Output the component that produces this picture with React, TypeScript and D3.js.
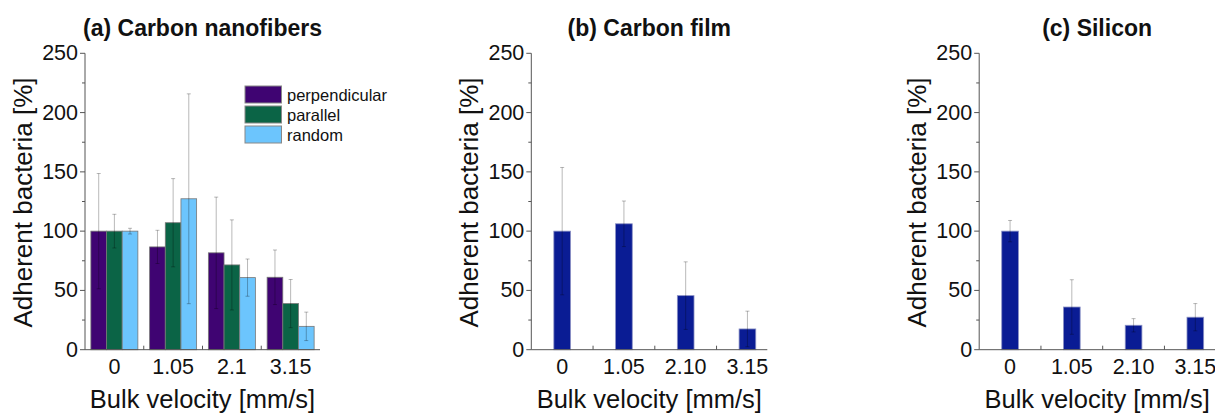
import React from "react";
import * as d3 from "d3";

const velocitiesA = ["0", "1.05", "2.1", "3.15"];
const velocitiesBC = ["0", "1.05", "2.10", "3.15"];
const seriesNames = ["perpendicular", "parallel", "random"];
const seriesColors = ["#3f0472", "#0b6446", "#6cc5fd"];

const perpValues = [100, 86.7, 81.7, 61.1];
const perpErrors = [48.6, 14, 47, 23];
const parallelValues = [100, 107.1, 71.5, 38.9];
const parallelErrors = [14.2, 37.2, 38, 20.3];
const randomValues = [100, 127.3, 60.8, 19.7];
const randomErrors = [2.4, 88.5, 15.7, 12];

const filmValues = [100, 106.2, 45.6, 17.5];
const filmErrors = [53.7, 19.2, 28.5, 15];
const siliconValues = [100, 36, 20.6, 27.4];
const siliconErrors = [9, 23, 5.6, 11.5];

const yTicks = [0, 50, 100, 150, 200, 250];
const yMinorTicks = [25, 75, 125, 175, 225];

const navy = "#0a1c94";
const FONT = "'Liberation Sans', Arial, Helvetica, sans-serif";

type Series = { name: string; color: string; values: number[]; errors: number[] };

type PanelProps = {
  title: string;
  cats: string[];
  series: Series[];
  x0: number;
  axisEnd: number;
  bandEnd: number;
  paddingInner: number;
  paddingOuter: number;
  legend?: boolean;
  barStroke: string;
};

const yTop = 53.3;
const yBottom = 349.7;

function Panel(p: PanelProps) {
  const y = d3.scaleLinear().domain([0, 250]).range([yBottom, yTop]);
  const x = d3
    .scaleBand<string>()
    .domain(p.cats)
    .range([p.x0, p.bandEnd])
    .paddingInner(p.paddingInner)
    .paddingOuter(p.paddingOuter);
  const sub = d3
    .scaleBand<string>()
    .domain(p.series.map((s) => s.name))
    .range([0, x.bandwidth()]);
  const step = x.step();
  const boundaries = d3.range(1, p.cats.length).map((k) => p.x0 + k * step);
  const axisCenter = (p.x0 + p.axisEnd) / 2;

  return (
    <g>
      <text
        x={axisCenter}
        y={36}
        textAnchor="middle"
        fontFamily={FONT}
        fontWeight="bold"
        fontSize={23}
        fill="#111"
      >
        {p.title}
      </text>
      {/* bars */}
      {p.series.map((s) =>
        p.cats.map((c, i) => {
          const bx = (x(c) as number) + (sub(s.name) as number);
          const bw = sub.bandwidth();
          return (
            <rect
              key={s.name + c}
              x={bx}
              y={y(s.values[i])}
              width={bw}
              height={y(0) - y(s.values[i])}
              fill={s.color}
              stroke={p.barStroke}
              strokeWidth={0.8}
            />
          );
        })
      )}
      {/* error bars */}
      {p.series.map((s) =>
        p.cats.map((c, i) => {
          const cx = (x(c) as number) + (sub(s.name) as number) + sub.bandwidth() / 2;
          const hi = y(s.values[i] + s.errors[i]);
          const lo = y(Math.max(0, s.values[i] - s.errors[i]));
          return (
            <g key={"e" + s.name + c} stroke="#000" strokeOpacity={0.28} strokeWidth={1}>
              <line x1={cx} x2={cx} y1={hi} y2={lo} />
              <line x1={cx - 2} x2={cx + 2} y1={hi} y2={hi} />
              <line x1={cx - 2} x2={cx + 2} y1={lo} y2={lo} />
            </g>
          );
        })
      )}
      {/* y axis */}
      <line x1={p.x0} x2={p.x0} y1={yTop} y2={yBottom} stroke="#555" strokeWidth={1} />
      {yTicks.map((t) => (
        <g key={"yt" + t}>
          <line x1={p.x0 - 5} x2={p.x0} y1={y(t)} y2={y(t)} stroke="#555" strokeWidth={1} />
          <text
            x={p.x0 - 7}
            y={y(t)}
            textAnchor="end"
            dominantBaseline="central"
            fontFamily={FONT}
            fontSize={21.5}
            fill="#111"
          >
            {t}
          </text>
        </g>
      ))}
      {yMinorTicks.map((t) => (
        <line key={"ym" + t} x1={p.x0 - 3} x2={p.x0} y1={y(t)} y2={y(t)} stroke="#555" strokeWidth={1} />
      ))}
      {/* x axis */}
      <line x1={p.x0} x2={p.axisEnd} y1={yBottom} y2={yBottom} stroke="#555" strokeWidth={1} />
      {boundaries.map((bx, k) => (
        <line key={"xb" + k} x1={bx} x2={bx} y1={yBottom} y2={yBottom - 4} stroke="#555" strokeWidth={1} />
      ))}
      {p.cats.map((c) => (
        <text
          key={"xl" + c}
          x={(x(c) as number) + x.bandwidth() / 2}
          y={374}
          textAnchor="middle"
          fontFamily={FONT}
          fontSize={21.5}
          fill="#111"
        >
          {c}
        </text>
      ))}
      <text
        x={axisCenter}
        y={408}
        textAnchor="middle"
        fontFamily={FONT}
        fontSize={25.5}
        fill="#111"
      >
        Bulk velocity [mm/s]
      </text>
      <text
        transform={`translate(${p.x0 - 53},${(yTop + yBottom) / 2 + 1}) rotate(-90)`}
        textAnchor="middle"
        fontFamily={FONT}
        fontSize={26}
        fill="#111"
      >
        Adherent bacteria [%]
      </text>
      {p.legend &&
        p.series.map((s, i) => (
          <g key={"lg" + s.name}>
            <rect
              x={245}
              y={86 + i * 20}
              width={36.5}
              height={17}
              fill={s.color}
              stroke="#888"
              strokeWidth={1}
            />
            <text
              x={287}
              y={86 + i * 20 + 8.5}
              dominantBaseline="central"
              fontFamily={FONT}
              fontSize={16.5}
              fill="#111"
            >
              {s.name}
            </text>
          </g>
        ))}
    </g>
  );
}

export default function App() {
  const seriesA: Series[] = [
    { name: seriesNames[0], color: seriesColors[0], values: perpValues, errors: perpErrors },
    { name: seriesNames[1], color: seriesColors[1], values: parallelValues, errors: parallelErrors },
    { name: seriesNames[2], color: seriesColors[2], values: randomValues, errors: randomErrors },
  ];
  const seriesB: Series[] = [{ name: "film", color: navy, values: filmValues, errors: filmErrors }];
  const seriesC: Series[] = [{ name: "silicon", color: navy, values: siliconValues, errors: siliconErrors }];

  return (
    <svg
      width={1215}
      height={414}
      style={{ position: "absolute", left: 0, top: 0, background: "#fff" }}
    >
      <rect x={0} y={0} width={1215} height={414} fill="#fff" />
      <Panel
        title="(a) Carbon nanofibers"
        cats={velocitiesA}
        series={seriesA}
        x0={85}
        axisEnd={320}
        bandEnd={320}
        paddingInner={0.2}
        paddingOuter={0.1}
        legend
        barStroke="#777"
      />
      <Panel
        title="(b) Carbon film"
        cats={velocitiesBC}
        series={seriesB}
        x0={531.3}
        axisEnd={767.3}
        bandEnd={778.3}
        paddingInner={0.73}
        paddingOuter={0.365}
        barStroke="#8a90c4"
      />
      <Panel
        title="(c) Silicon"
        cats={velocitiesBC}
        series={seriesC}
        x0={979.2}
        axisEnd={1215}
        bandEnd={1226.2}
        paddingInner={0.73}
        paddingOuter={0.365}
        barStroke="#8a90c4"
      />
    </svg>
  );
}
